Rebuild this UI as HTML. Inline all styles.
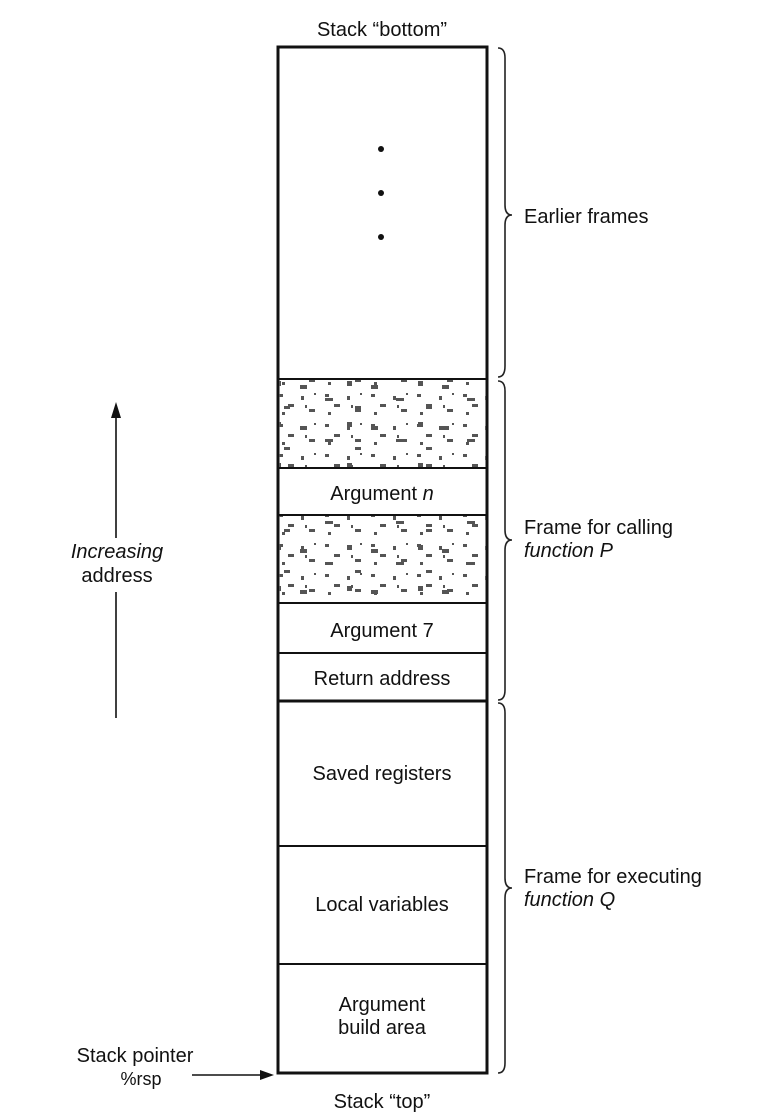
<!DOCTYPE html>
<html><head><meta charset="utf-8"><style>
html,body{margin:0;padding:0;background:#fff}
svg{display:block}
text{font-family:"Liberation Sans",sans-serif;fill:#111}
</style></head><body>
<svg width="782" height="1115" viewBox="0 0 782 1115">
<defs>
<pattern id="speck" width="46" height="30" patternUnits="userSpaceOnUse">
<g fill="#555">
<rect x="3" y="4" width="4" height="3"/><rect x="12" y="14" width="6" height="3"/><rect x="25" y="6" width="3" height="4"/>
<rect x="33" y="19" width="6" height="3"/><rect x="6" y="22" width="3" height="3"/>
<rect x="38" y="3" width="2" height="2"/><rect x="29" y="15" width="2" height="3"/>
</g>
</pattern>
<pattern id="speck2" x="11" y="7" width="71" height="41" patternUnits="userSpaceOnUse">
<g fill="#555">
<rect x="5" y="9" width="7" height="4"/><rect x="30" y="22" width="8" height="3"/><rect x="52" y="5" width="5" height="5"/><rect x="60" y="30" width="6" height="3"/>
</g>
</pattern>
</defs>
<text x="382" y="36" text-anchor="middle" font-size="20">Stack “bottom”</text>
<text x="382" y="1108" text-anchor="middle" font-size="20">Stack “top”</text>

<g>
<rect x="278" y="47" width="209" height="1026" fill="#fff" stroke="#111" stroke-width="3"/>
<g>
<rect x="279" y="380" width="207" height="88" fill="url(#speck)"/>
<rect x="279" y="380" width="207" height="88" fill="url(#speck2)"/>
</g>
<g>
<rect x="279" y="515" width="207" height="88" fill="url(#speck)"/>
<rect x="279" y="515" width="207" height="88" fill="url(#speck2)"/>
</g>
<g stroke="#111" stroke-width="2">
<line x1="278" y1="379" x2="487" y2="379"/>
<line x1="278" y1="468" x2="487" y2="468"/>
<line x1="278" y1="515" x2="487" y2="515"/>
<line x1="278" y1="603" x2="487" y2="603"/>
<line x1="278" y1="653" x2="487" y2="653"/>
<line x1="278" y1="701" x2="487" y2="701" stroke-width="3"/>
<line x1="278" y1="846" x2="487" y2="846"/>
<line x1="278" y1="964" x2="487" y2="964"/>
</g>
</g>
<g fill="#111">
<circle cx="381" cy="149" r="3"/><circle cx="381" cy="193" r="3"/><circle cx="381" cy="237" r="3"/>
</g>
<g font-size="20" text-anchor="middle">
<text x="382" y="500">Argument <tspan font-style="italic">n</tspan></text>
<text x="382" y="637">Argument 7</text>
<text x="382" y="685">Return address</text>
<text x="382" y="780">Saved registers</text>
<text x="382" y="911">Local variables</text>
<text x="382" y="1011">Argument</text>
<text x="382" y="1034">build area</text>
</g>
<g fill="none" stroke="#222" stroke-width="1.6">
<path d="M498,48 Q505,48 505,58 L505,205 Q505,215 512,215 Q505,215 505,225 L505,366 Q505,377 498,377"/>
<path d="M498,381 Q505,381 505,391 L505,530 Q505,540 512,540 Q505,540 505,550 L505,690 Q505,700 498,700"/>
<path d="M498,703 Q505,703 505,713 L505,878 Q505,888 512,888 Q505,888 505,898 L505,1063 Q505,1073 498,1073"/>
</g>
<g font-size="20">
<text x="524" y="223">Earlier frames</text>
<text x="524" y="534">Frame for calling</text>
<text x="524" y="557" font-style="italic">function P</text>
<text x="524" y="883">Frame for executing</text>
<text x="524" y="906" font-style="italic">function Q</text>
</g>
<g>
<line x1="116" y1="415" x2="116" y2="538" stroke="#111" stroke-width="1.6"/>
<line x1="116" y1="592" x2="116" y2="718" stroke="#111" stroke-width="1.6"/>
<path d="M116,402 L111,418 L121,418 Z" fill="#111"/>
</g>
<text x="117" y="558" text-anchor="middle" font-size="20" font-style="italic">Increasing</text>
<text x="117" y="582" text-anchor="middle" font-size="20">address</text>
<text x="135" y="1062" text-anchor="middle" font-size="20">Stack pointer</text>
<text x="141" y="1085" text-anchor="middle" font-size="18" font-family="Liberation Mono">%rsp</text>
<g>
<line x1="192" y1="1075" x2="262" y2="1075" stroke="#111" stroke-width="1.6"/>
<path d="M274,1075 L260,1070 L260,1080 Z" fill="#111"/>
</g>
</svg>
</body></html>
